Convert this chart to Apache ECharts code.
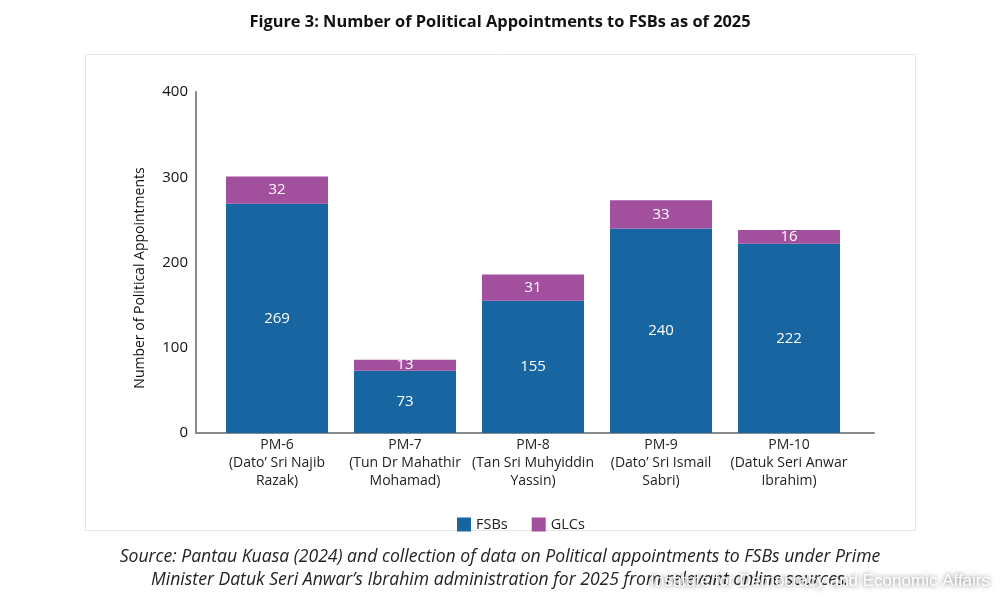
<!DOCTYPE html>
<html>
<head>
<meta charset="utf-8">
<script src="https://cdn.jsdelivr.net/npm/echarts@6/dist/echarts.min.js"></script>
<style>html,body{margin:0;padding:0;background:#fff}#c{width:1000px;height:600px}</style>
</head>
<body>
<div id="c"></div>
<script>
const categories = [
  "PM-6\n(Dato’ Sri Najib\nRazak)",
  "PM-7\n(Tun Dr Mahathir\nMohamad)",
  "PM-8\n(Tan Sri Muhyiddin\nYassin)",
  "PM-9\n(Dato’ Sri Ismail\nSabri)",
  "PM-10\n(Datuk Seri Anwar\nIbrahim)"
];
const fsbs = [269, 73, 155, 240, 222];
const glcs = [32, 13, 31, 33, 16];
const yTicks = { min: 0, max: 400, interval: 100 };

const FONT = 'Open Sans';
const chart = echarts.init(document.getElementById('c'), null, { renderer: 'canvas' });
chart.setOption({
  backgroundColor: '#fff',
  animation: false,
  textStyle: { fontFamily: FONT },
  title: {
    text: 'Figure 3: Number of Political Appointments to FSBs as of 2025',
    left: 'center', top: 9,
    textStyle: { fontFamily: FONT, fontSize: 16.4, fontWeight: 'bold', color: '#111' }
  },
  legend: {
    left: 452, top: 512,
    itemWidth: 14, itemHeight: 14, itemGap: 24,
    icon: 'rect',
    textStyle: { fontFamily: FONT, fontSize: 14.5, color: '#222' },
    data: ['FSBs', 'GLCs']
  },
  grid: [
    { left: 196, right: 126, top: 92, bottom: 167 },
    { left: 213, right: 147, top: 92, bottom: 167 }
  ],
  xAxis: [
    { type: 'category', gridIndex: 0, data: [''], axisLine: { lineStyle: { color: '#8a8a8a', width: 2 } },
      axisTick: { show: false }, axisLabel: { show: false } },
    { type: 'category', gridIndex: 1, data: categories, axisLine: { show: false }, axisTick: { show: false },
      axisLabel: { interval: 0, margin: 3, fontFamily: FONT, fontSize: 14, lineHeight: 18, color: '#222' } }
  ],
  yAxis: [
    { type: 'value', gridIndex: 0, min: yTicks.min, max: yTicks.max, interval: yTicks.interval,
      axisLine: { show: true, lineStyle: { color: '#8a8a8a', width: 2 } }, axisTick: { show: false },
      splitLine: { show: false },
      axisLabel: { margin: 8, fontFamily: FONT, fontSize: 15, color: '#111' } },
    { type: 'value', gridIndex: 1, min: yTicks.min, max: yTicks.max, interval: yTicks.interval,
      show: false, splitLine: { show: false } }
  ],
  series: [
    { name: 'FSBs', type: 'bar', stack: 's', xAxisIndex: 1, yAxisIndex: 1, barWidth: 102,
      data: fsbs, itemStyle: { color: '#1765a1' },
      label: { show: true, position: 'inside', color: '#fff', fontFamily: FONT, fontSize: 15 } },
    { name: 'GLCs', type: 'bar', stack: 's', xAxisIndex: 1, yAxisIndex: 1, barWidth: 102,
      data: glcs, itemStyle: { color: '#a24f9d' },
      label: { show: true, position: 'inside', color: '#fff', fontFamily: FONT, fontSize: 15 } }
  ],
  graphic: [
    { type: 'rect', z: -10, shape: { x: 85.5, y: 54.5, width: 830, height: 476 },
      style: { fill: 'none', stroke: '#e6e6e6', lineWidth: 1 } },
    { type: 'text', x: 140, y: 278, rotation: Math.PI / 2,
      style: { text: 'Number of Political Appointments', fontFamily: FONT, fontSize: 14, fill: '#111',
               textAlign: 'center', textVerticalAlign: 'middle' } },
    { type: 'text', x: 500, y: 557,
      style: { text: 'Source: Pantau Kuasa (2024) and collection of data on Political appointments to FSBs under Prime',
               fontFamily: FONT, fontStyle: 'italic', fontSize: 17.6, fill: '#222', textAlign: 'center', textVerticalAlign: 'middle' } },
    { type: 'text', x: 500, y: 580,
      style: { text: 'Minister Datuk Seri Anwar’s Ibrahim administration for 2025 from relevant online sources.',
               fontFamily: FONT, fontStyle: 'italic', fontSize: 17.6, fill: '#222', textAlign: 'center', textVerticalAlign: 'middle' } },
    { type: 'text', x: 990, y: 581, z: 100,
      style: { text: 'Institute for Democracy and Economic Affairs',
               fontFamily: 'Liberation Sans', fontSize: 17, fill: '#ffffff',
               textAlign: 'right', textVerticalAlign: 'middle',
               textShadowColor: 'rgba(0,0,0,0.6)', textShadowBlur: 5 } }
  ]
});
</script>
</body>
</html>
